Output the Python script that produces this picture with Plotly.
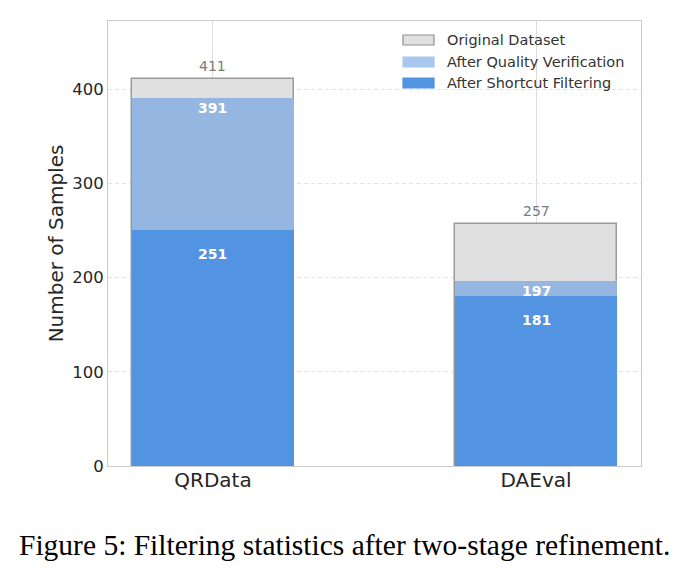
import plotly.graph_objects as go

categories = ["QRData", "DAEval"]
original = [411, 257]
quality = [391, 197]
shortcut = [251, 181]
series_names = ["Original Dataset", "After Quality Verification", "After Shortcut Filtering"]
yticks = [0, 100, 200, 300, 400]

W, H = 689, 576
L, R, T, B = 108, 48, 21, 110
pw, ph = W - L - R, H - T - B

def px2paper_x(px):
    return (px - L) / pw

def px2paper_y(py):
    return (H - B - py) / ph

fig = go.Figure()
fig.add_bar(x=categories, y=original, width=0.5, marker=dict(color="#e0e0e0", line=dict(color="#9a9a9a", width=1.5)),
            name=series_names[0], showlegend=False, hoverinfo="skip")
fig.add_bar(x=categories, y=quality, width=0.5, marker=dict(color="#94b6e0", line=dict(width=0)),
            name=series_names[1], showlegend=False, hoverinfo="skip")
fig.add_bar(x=categories, y=shortcut, width=0.5, marker=dict(color="#5294e2", line=dict(width=0)),
            name=series_names[2], showlegend=False, hoverinfo="skip")

annotations = []
for c, v in zip(categories, original):
    annotations.append(dict(x=c, y=v, xref="x", yref="y", text=str(v), showarrow=False,
                            yanchor="middle", yshift=13, font=dict(family="DejaVu Sans", size=14, color="#7a7a7a")))
for c, v in zip(categories, quality):
    annotations.append(dict(x=c, y=v, xref="x", yref="y", text="<b>%d</b>" % v, showarrow=False,
                            yanchor="middle", yshift=-10.5, font=dict(family="DejaVu Sans", size=14, color="white")))
for c, v in zip(categories, shortcut):
    annotations.append(dict(x=c, y=v, xref="x", yref="y", text="<b>%d</b>" % v, showarrow=False,
                            yanchor="middle", yshift=-24.5, font=dict(family="DejaVu Sans", size=14, color="white")))

# manual legend
leg_fill = ["#e0e0e0", "#a8c8f0", "#5294e2"]
leg_line = ["#8f8f8f", "#a8c8f0", "#5294e2"]
leg_y = [40, 62, 83]
shapes = []
for name, fc, lc, yc in zip(series_names, leg_fill, leg_line, leg_y):
    shapes.append(dict(type="rect", xref="paper", yref="paper",
                       x0=px2paper_x(403), x1=px2paper_x(434),
                       y0=px2paper_y(yc + 5), y1=px2paper_y(yc - 5),
                       fillcolor=fc, line=dict(color=lc, width=1.2)))
    annotations.append(dict(x=px2paper_x(445), y=px2paper_y(yc), xref="paper", yref="paper", text=name,
                            showarrow=False, xanchor="left", yanchor="middle",
                            font=dict(family="DejaVu Sans", size=14.5, color="#333333")))

annotations.append(dict(x=px2paper_x(344.5), y=px2paper_y(545), xref="paper", yref="paper",
                        text="Figure 5: Filtering statistics after two-stage refinement.", showarrow=False,
                        xanchor="center", yanchor="middle",
                        font=dict(family="Liberation Serif", size=29.5, color="black")))

fig.update_layout(
    width=W, height=H, margin=dict(l=L, r=R, t=T, b=B, autoexpand=False),
    barmode="overlay", bargap=0, plot_bgcolor="white", paper_bgcolor="white",
    showlegend=False, shapes=shapes, annotations=annotations,
    font=dict(family="DejaVu Sans", color="#333333"),
)
fig.update_xaxes(type="category", range=[-0.325, 1.325], showgrid=True, gridcolor="#dddddd", gridwidth=1,
                 showline=True, linecolor="#cccccc", linewidth=1, mirror=True, ticks="", ticklabelstandoff=-4,
                 tickfont=dict(family="DejaVu Sans", size=20, color="#262626"), zeroline=False)
fig.update_yaxes(range=[0, 472.65], tickvals=yticks, showgrid=True, gridcolor="#e3e3e3", gridwidth=1, griddash="4px,3px",
                 showline=True, linecolor="#cccccc", linewidth=1, mirror=True, ticks="", zeroline=False,
                 tickfont=dict(family="DejaVu Sans", size=16.5, color="#262626"),
                 title=dict(text="Number of Samples", font=dict(family="DejaVu Sans", size=20, color="#262626"), standoff=3))

fig.write_html("out.html")
